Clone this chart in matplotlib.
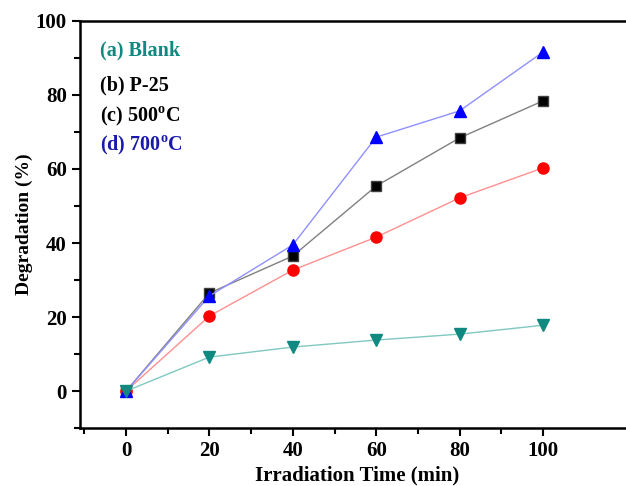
import matplotlib
matplotlib.use("Agg")
import matplotlib.pyplot as plt
from matplotlib.ticker import FixedLocator

plt.rcParams['font.family'] = ['Liberation Serif', 'DejaVu Serif']
plt.rcParams['font.weight'] = 'bold'
plt.rcParams['mathtext.fontset'] = 'custom'
plt.rcParams['mathtext.rm'] = 'Liberation Serif:bold'
plt.rcParams['mathtext.bf'] = 'Liberation Serif:bold'

time_min = [0, 20, 40, 60, 80, 100]
blank = [0, 9.2, 11.9, 13.8, 15.4, 17.8]
p25 = [0, 26.5, 36.5, 55.4, 68.4, 78.4]
c500 = [0, 20.3, 32.7, 41.6, 52.2, 60.3]
c700 = [0, 25.7, 39.5, 68.6, 75.7, 91.6]

labels = ["(a) Blank", "(b) P-25", "(c) 500$^{\\mathbf{o}}$C", "(d) 700$^{\\mathbf{o}}$C"]
label_colors = ["#108a80", "black", "black", "#1a1aa8"]

fig = plt.figure(figsize=(6.26, 4.86), dpi=100)
ax = fig.add_axes([0.128, 0.119, 0.886, 0.838])

# series: line colour, marker colour, marker
ax.plot(time_min, p25, color="#808080", lw=1, marker="s", ms=7,
        mfc="black", mec="#404040")
ax.plot(time_min, c500, color="#ff9090", lw=1, marker="o", ms=8,
        mfc="red", mec="red")
ax.plot(time_min, c700, color="#9090ff", lw=1, marker="^", ms=9,
        mfc="blue", mec="blue")
ax.plot(time_min, blank, color="#80c8c0", lw=1, marker="v", ms=8,
        mfc="#108a80", mec="#108a80")

ax.set_xlim(-11, 122)
ax.set_ylim(-10, 100)
ax.set_xticks(range(0, 101, 20))
ax.set_yticks(range(0, 101, 20))
ax.xaxis.set_minor_locator(FixedLocator(range(-10, 101, 10)))
ax.yaxis.set_minor_locator(FixedLocator(range(-10, 101, 10)))
ax.tick_params(which='major', direction='out', length=6, width=1.5, labelsize=15)
ax.tick_params(which='minor', direction='out', length=4, width=1.5)
ax.tick_params(top=False, right=False, which='both')
for s in ax.spines.values():
    s.set_linewidth(1.8)
ax.spines['right'].set_visible(False)

ax.set_xlabel("Irradiation Time (min)", fontsize=15, fontweight='bold', labelpad=3)
ax.set_ylabel("Degradation (%)", fontsize=14, fontweight='bold', labelpad=2)

ys = [0.914, 0.830, 0.752, 0.681]
for lab, col, y in zip(labels, label_colors, ys):
    ax.text(0.036, y, lab, transform=ax.transAxes, color=col, fontsize=14.5,
            fontweight='bold', va='baseline', ha='left')

fig.savefig("out.png", dpi=100)
